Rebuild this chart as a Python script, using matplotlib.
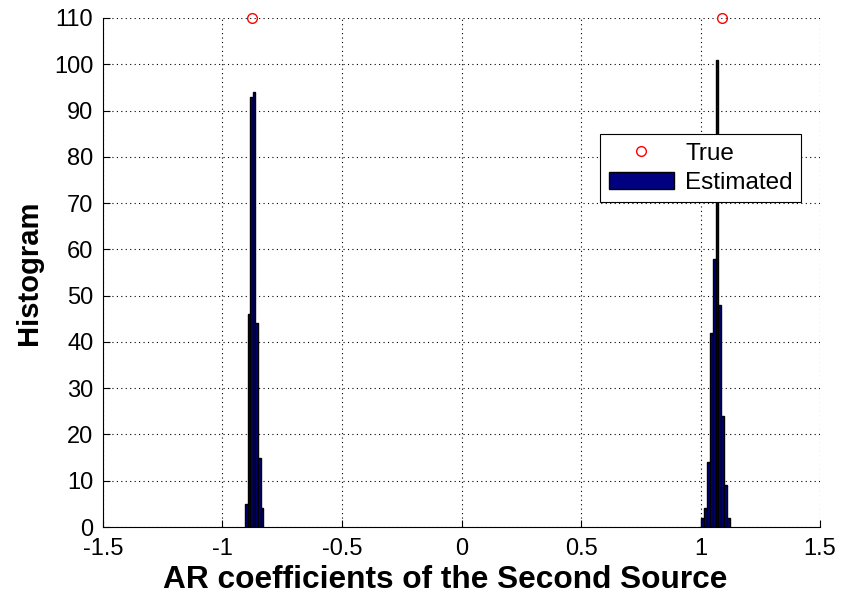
import matplotlib.pyplot as plt

# histogram bins (centres) and counts
left_centers = [-0.900, -0.889, -0.878, -0.868, -0.857, -0.846, -0.835]
left_counts = [5, 46, 93, 94, 44, 15, 4]
right_centers = [1.008, 1.020, 1.033, 1.045, 1.057, 1.069, 1.081, 1.093, 1.105, 1.118]
right_counts = [2, 4, 14, 42, 58, 101, 48, 24, 9, 2]

true_x = [-0.876, 1.09]
true_y = [110, 110]

xticks = [-1.5, -1, -0.5, 0, 0.5, 1, 1.5]
xticklabels = ["-1.5", "-1", "-0.5", "0", "0.5", "1", "1.5"]
yticks = list(range(0, 111, 10))


def main():
    plt.rcParams['font.family'] = ['Liberation Sans', 'DejaVu Sans']
    fig = plt.figure(figsize=(8.42, 5.99), dpi=100)
    ax = fig.add_axes([0.1223, 0.1202, 0.8516, 0.8498])

    ax.plot(true_x, true_y, 'o', mfc='none', mec='red', ms=7, mew=1, label='True',
            clip_on=False, zorder=5)
    ax.bar(left_centers, left_counts, width=0.011, color='#000080', edgecolor='black',
           linewidth=1.0, label='Estimated')
    ax.bar(right_centers, right_counts, width=0.012, color='#000080', edgecolor='black',
           linewidth=1.0)

    ax.set_xlim(-1.5, 1.5)
    ax.set_ylim(0, 110)
    ax.set_xticks(xticks)
    ax.set_xticklabels(xticklabels)
    ax.set_yticks(yticks)
    ax.tick_params(direction='in', labelsize=17, length=5, width=0.8)
    ax.tick_params(axis='y', pad=7)
    ax.tick_params(axis='x', pad=8)
    ax.grid(True, linestyle=(0, (1, 3)), color='black', linewidth=0.8)
    ax.set_axisbelow(True)
    ax.spines['top'].set_visible(False)
    ax.spines['right'].set_visible(False)

    ax.set_xlabel('AR coefficients of the Second Source', fontsize=22.8, fontweight='bold',
                  labelpad=3)
    ax.xaxis.set_label_coords(0.477, -0.075)
    ax.set_ylabel('Histogram', fontsize=21, fontweight='bold', labelpad=8)

    leg = ax.legend(loc='upper right', bbox_to_anchor=(0.974, 0.772), fontsize=17.5,
                    fancybox=False, edgecolor='black', framealpha=1, handlelength=2.7,
                    handletextpad=0.45, borderpad=0.35, labelspacing=0.3,
                    borderaxespad=0)
    leg.get_frame().set_linewidth(0.8)

    fig.savefig('out.png', dpi=100)


if __name__ == "__main__":
    main()
